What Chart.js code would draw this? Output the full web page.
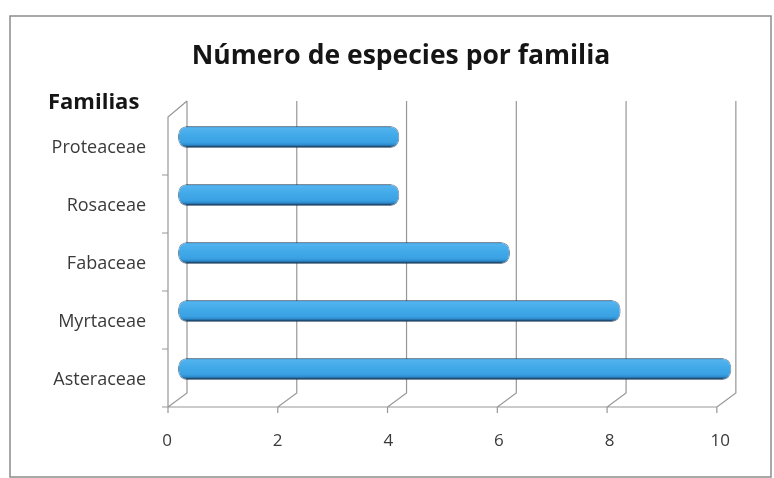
<!DOCTYPE html>
<html>
<head>
<meta charset="utf-8">
<script src="https://cdn.jsdelivr.net/npm/chart.js@4.4.1/dist/chart.umd.min.js"></script>
<style>
  html, body { margin: 0; padding: 0; background: #ffffff; }
  #wrap { width: 774px; height: 478px; }
</style>
</head>
<body>
<div id="wrap"><canvas id="c" width="774" height="478"></canvas></div>
<script>
// Species count per plant family
const familias = ['Proteaceae', 'Rosaceae', 'Fabaceae', 'Myrtaceae', 'Asteraceae'];
const especies = [4, 4, 6, 8, 10];
const valorTicks = [0, 2, 4, 6, 8, 10];
const titulo = 'Número de especies por familia';
const tituloEje = 'Familias';

const FONT = '"Open Sans", Lato, "Liberation Sans", sans-serif';
const LINE = '#979797';

// Cylinder-like shading for each bar, built from the bar's own pixel band
function barFill(ctx) {
  const chart = ctx.chart;
  const ys = chart.scales && chart.scales.y;
  const yc = ys ? ys.getPixelForValue(ctx.dataIndex) : NaN;
  if (!isFinite(yc)) return '#3ea3e3';
  const half = 11;
  const g = chart.ctx.createLinearGradient(0, yc - half, 0, yc + half);
  g.addColorStop(0.00, '#3a90cc');
  g.addColorStop(0.10, '#52b3ee');
  g.addColorStop(0.40, '#43aae9');
  g.addColorStop(0.74, '#3aa2e4');
  g.addColorStop(0.86, '#2f8bcd');
  g.addColorStop(0.93, '#1c4f78');
  g.addColorStop(1.00, '#0e2338');
  return g;
}

// Box around the whole chart plus the axis caption
const marco = {
  id: 'marco',
  beforeDraw(chart) {
    const c = chart.ctx;
    c.save();
    c.fillStyle = '#ffffff';
    c.fillRect(0, 0, chart.width, chart.height);
    c.strokeStyle = '#8c8c8c';
    c.lineWidth = 1.5;
    c.strokeRect(10, 16, chart.width - 13, chart.height - 17);
    c.fillStyle = '#151515';
    c.font = 'bold 22px ' + FONT;
    c.textAlign = 'left';
    c.textBaseline = 'alphabetic';
    c.fillText(tituloEje, 48, 109);
    c.restore();
  }
};

// Walls and floor of the 3-D plot box, tied to the scales
const caja3d = {
  id: 'caja3d',
  beforeDatasetsDraw(chart) {
    const c = chart.ctx;
    const xs = chart.scales.x, ys = chart.scales.y, a = chart.chartArea;
    const k = 0.992;
    const back = v => a.left + 9 + (xs.getPixelForValue(v) - a.left) * k;
    const front = v => a.left - 10 + (xs.getPixelForValue(v) - a.left) * k;
    const bTop = a.top - 7, bBot = a.bottom - 5;
    const fTop = a.top + 9, fBot = a.bottom + 9;
    const vMin = valorTicks[0], vMax = valorTicks[valorTicks.length - 1];
    c.save();
    c.strokeStyle = LINE;
    c.lineWidth = 1.2;
    c.beginPath();
    valorTicks.forEach(v => {
      c.moveTo(back(v), bTop);
      c.lineTo(back(v), bBot);
      c.lineTo(front(v), fBot);
      c.lineTo(front(v), fBot + 6);
    });
    c.moveTo(front(vMin), fBot);
    c.lineTo(front(vMax), fBot);
    c.moveTo(back(vMin), bTop);
    c.lineTo(front(vMin), fTop);
    c.lineTo(front(vMin), fBot);
    for (let i = 1; i <= familias.length; i++) {
      const yb = i < familias.length
        ? (ys.getPixelForValue(i - 1) + ys.getPixelForValue(i)) / 2 + 9
        : fBot;
      c.moveTo(front(vMin) - 6, yb);
      c.lineTo(front(vMin), yb);
    }
    c.stroke();
    c.restore();
  }
};

new Chart(document.getElementById('c'), {
  type: 'bar',
  data: {
    labels: familias,
    datasets: [{
      data: especies,
      backgroundColor: barFill,
      borderColor: 'rgba(18, 45, 75, 0.55)',
      borderWidth: 1,
      borderRadius: 9,
      borderSkipped: false,
      barPercentage: 0.38,
      categoryPercentage: 1,
      clip: false
    }]
  },
  options: {
    indexAxis: 'y',
    responsive: false,
    animation: false,
    devicePixelRatio: 1,
    layout: { padding: { left: 30, right: 2, top: 12, bottom: 20 } },
    plugins: {
      legend: { display: false },
      tooltip: { enabled: false },
      title: {
        display: true,
        text: titulo,
        color: '#151515',
        font: { family: FONT, weight: 'bold', size: 26.5, lineHeight: 1.2 },
        padding: { top: 29, bottom: 35.2 }
      }
    },
    scales: {
      x: {
        type: 'linear',
        min: valorTicks[0],
        max: valorTicks[valorTicks.length - 1],
        grid: { display: false, drawTicks: false },
        border: { display: false },
        ticks: {
          stepSize: 2,
          labelOffset: -11,
          padding: 33,
          color: '#3a3a3a',
          font: { family: FONT, size: 17 }
        },
        afterFit(s) { s.height = 60; }
      },
      y: {
        grid: { display: false, drawTicks: false },
        border: { display: false },
        ticks: {
          labelOffset: 11,
          padding: 32,
          color: '#3a3a3a',
          font: { family: FONT, size: 18 }
        },
        afterFit(s) { s.width = 148; }
      },
      // empty margin on the right that keeps the plot box clear of the frame
      margen: {
        type: 'category',
        position: 'right',
        grid: { display: false, drawTicks: false },
        border: { display: false },
        ticks: { display: false },
        afterFit(s) { s.width = 40; }
      }
    }
  },
  plugins: [marco, caja3d]
});
</script>
</body>
</html>
